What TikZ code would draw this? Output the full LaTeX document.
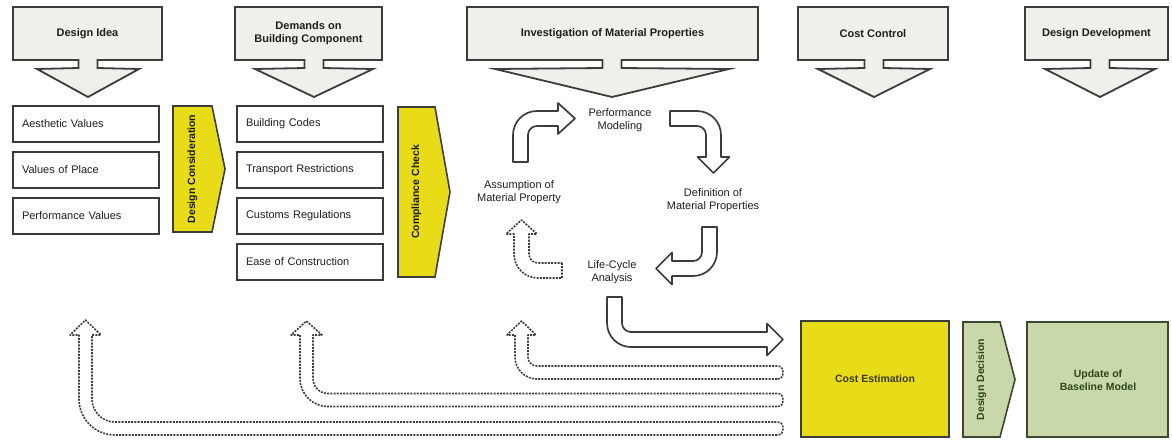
\documentclass[tikz,border=0pt]{standalone}
\usepackage{fontspec}
\setmainfont{Liberation Sans}
\definecolor{hdrfill}{RGB}{240,240,234}
\definecolor{edge}{RGB}{60,60,60}
\definecolor{ylw}{RGB}{232,220,24}
\definecolor{grn}{RGB}{201,216,168}
\definecolor{grnedge}{RGB}{60,72,50}
\definecolor{txt}{RGB}{30,30,30}
\definecolor{ytxt}{RGB}{60,56,10}
\definecolor{gtxt}{RGB}{45,70,30}
\newcommand{\headbox}[6]{%
  \draw[hdrshape] (#2,7) -- (#3,7) -- (#3,60) -- ({#4+9.5},60) -- ({#4+9.5},68) -- ({#4+#5},69)
     -- (#4,97) -- ({#4-#5},69) -- ({#4-9.5},68) -- ({#4-9.5},60) -- (#2,60) -- cycle;
  \node[hdrtext] (#1) at ({(#2+#3)/2},33.5) {#6};}
\begin{document}
\begin{tikzpicture}[x=1pt,y=-1pt,
  hdrshape/.style={draw=edge, fill=hdrfill, line width=1.8pt, line join=miter},
  hdrtext/.style={font=\fontsize{11}{13}\selectfont\bfseries, text=txt, align=center, inner sep=0pt},
  listbox/.style={draw=edge, fill=white, line width=2pt, anchor=north west, minimum width=146pt,
     minimum height=36pt, text width=128pt, inner xsep=9pt, align=left,
     font=\fontsize{11}{13}\selectfont, text=txt},
  chevy/.style={draw=edge, fill=ylw, line width=1.6pt, line join=miter},
  cheng/.style={draw=grnedge, fill=grn, line width=1.6pt, line join=miter},
  vtext/.style={rotate=90, font=\fontsize{10.5}{12}\selectfont\bfseries, text=txt, inner sep=0pt},
  lbl/.style={font=\fontsize{11}{13.5}\selectfont, text=txt, align=center, inner sep=0pt},
  solidarrow/.style={draw=edge, fill=white, line width=1.7pt, line join=round},
  dasharrow/.style={draw=edge, fill=white, line width=1.6pt, dash pattern=on 2pt off 1.2pt, line join=round},
]
\useasboundingbox (0,0) rectangle (1172,439);

% header arrows
\headbox{hidea}{13}{162}{88}{51}{Design Idea}
\headbox{hdemand}{235}{382}{314}{59}{Demands on\\Building Component}
\headbox{hinvest}{467}{758}{612}{117}{Investigation of Material Properties}
\headbox{hcost}{798}{948}{874}{56}{Cost Control}
\headbox{hdev}{1025}{1168}{1100}{55}{Design Development}

% left list
\node[listbox] (av) at (12,105) {Aesthetic Values};
\node[listbox] (vp) at (12,151) {Values of Place};
\node[listbox] (pv) at (12,197) {Performance Values};
% middle list
\node[listbox] (bc) at (236,105) {Building Codes};
\node[listbox] (tr) at (236,151) {Transport Restrictions};
\node[listbox] (cr) at (236,197) {Customs Regulations};
\node[listbox] (ec) at (236,243) {Ease of Construction};

% chevrons
\draw[chevy] (173,106) -- (212,106) -- (225,169) -- (212,232) -- (173,232) -- cycle;
\node[vtext] (dc) at (192.5,169) {Design Consideration};
\draw[chevy] (398,107) -- (435,107) -- (450,192) -- (435,277) -- (398,277) -- cycle;
\node[vtext] (cc) at (416.5,192) {Compliance Check};

% cycle labels
\node[lbl] (pm) at (620,120) {Performance\\Modeling};
\node[lbl] (am) at (519,192) {Assumption of\\Material Property};
\node[lbl] (dm) at (713,200) {Definition of\\Material Properties};
\node[lbl] (lc) at (612,272) {Life-Cycle\\Analysis};

% cycle arrows
\draw[solidarrow] (513,162) -- (513,135) .. controls (513,121.7) and (523.7,111) .. (537,111)
  -- (558,111) -- (558,103) -- (575,118.5) -- (558,134) -- (558,126) -- (537,126)
  .. controls (532,126) and (528,130) .. (528,135) -- (528,162) -- cycle;
\draw[solidarrow] (670,111) -- (697,111) .. controls (710.3,111) and (721,121.7) .. (721,135)
  -- (721,157) -- (729.5,157) -- (713.5,173) -- (697.5,157) -- (706,157) -- (706,135)
  .. controls (706,130) and (702,126) .. (697,126) -- (670,126) -- cycle;
\draw[solidarrow] (702,227) -- (717,227) -- (717,252) .. controls (717,265.3) and (706.3,276) .. (693,276)
  -- (672,276) -- (672,284.5) -- (656,268.5) -- (672,252.5) -- (672,261) -- (693,261)
  .. controls (698,261) and (702,257) .. (702,252) -- cycle;
\draw[dasharrow] (562,263) -- (562,278) -- (538,278) .. controls (524.7,278) and (514,267.3) .. (514,254)
  -- (514,234) -- (506,234) -- (521.5,220) -- (537,234) -- (529,234) -- (529,254)
  .. controls (529,259) and (533,263) .. (538,263) -- cycle;

% big arrow to cost estimation
\draw[solidarrow] (622,297) -- (607,297) -- (607,323) .. controls (607,336.3) and (617.7,347) .. (631,347)
  -- (767,347) -- (767,355.5) -- (783,339.5) -- (767,323.5) -- (767,332) -- (631,332)
  .. controls (626,332) and (622,328) .. (622,323) -- cycle;

% feedback dashed arrows
\draw[dasharrow] (777,379) -- (537,379) .. controls (524.85,379) and (515,369.15) .. (515,357)
  -- (515,335) -- (507,335) -- (521.5,321) -- (536,335) -- (528,335) -- (528,357)
  .. controls (528,362) and (532,366) .. (537,366) -- (777,366)
  .. controls (781,366) and (783,368) .. (783,372.5) .. controls (783,377) and (781,379) .. (777,379) -- cycle;
\draw[dasharrow] (777,406.5) -- (328,406.5) .. controls (312.5,406.5) and (300,394) .. (300,378.5)
  -- (300,335) -- (291,335) -- (306.5,321) -- (322,335) -- (313,335) -- (313,378.5)
  .. controls (313,386.8) and (319.7,393.5) .. (328,393.5) -- (777,393.5)
  .. controls (781,393.5) and (783,395.5) .. (783,400) .. controls (783,404.5) and (781,406.5) .. (777,406.5) -- cycle;
\draw[dasharrow] (777,435) -- (115,435) .. controls (95.1,435) and (79,418.9) .. (79,399)
  -- (79,335) -- (70,335) -- (85.5,320) -- (101,335) -- (92,335) -- (92,399)
  .. controls (92,411.7) and (102.3,422) .. (115,422) -- (777,422)
  .. controls (781,422) and (783,424) .. (783,428.5) .. controls (783,433) and (781,435) .. (777,435) -- cycle;

% bottom boxes
\draw[chevy] (801,321) rectangle (949,437);
\node[font=\fontsize{10.5}{12}\selectfont\bfseries, text=ytxt, inner sep=0pt] (ce) at (875,379) {Cost Estimation};
\draw[cheng] (963,322) -- (1000,322) -- (1015,379.5) -- (1000,437) -- (963,437) -- cycle;
\node[vtext, text=gtxt] (dd) at (981.5,379.5) {Design Decision};
\draw[cheng] (1027,322) rectangle (1168,437);
\node[font=\fontsize{10.5}{13}\selectfont\bfseries, text=gtxt, align=center, inner sep=0pt] (ub) at (1098,380) {Update of\\Baseline Model};
\end{tikzpicture}
\end{document}
